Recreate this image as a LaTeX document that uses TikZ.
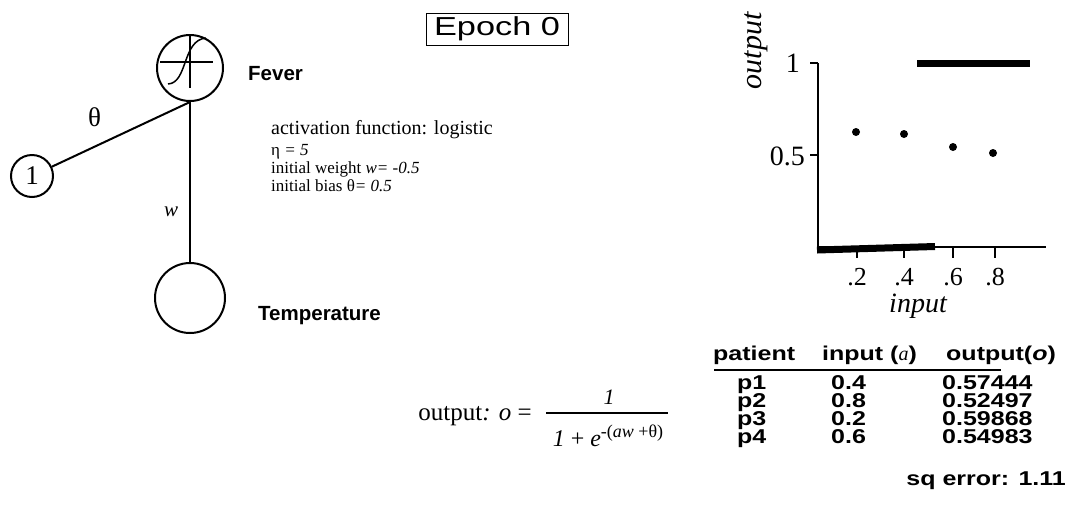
\documentclass[tikz,border=0pt]{standalone}
\usepackage{fontspec}
\setmainfont{Liberation Serif}
\setsansfont{Liberation Sans}
\newfontfamily\tabf[FakeStretch=1.25]{Liberation Sans}
\newfontfamily\epf[FakeStretch=1.32]{Liberation Sans}
\begin{document}
\begin{tikzpicture}[x=1pt,y=-1pt,
  unit/.style={draw,circle,line width=2pt,inner sep=0pt},
  lbl/.style={inner sep=0pt,anchor=base west,font=\sffamily\bfseries\fontsize{20.5}{20.5}\selectfont},
  ser/.style={inner sep=0pt,anchor=base west},
  tab/.style={inner sep=0pt,anchor=base west,font=\tabf\bfseries\fontsize{20}{20}\selectfont},
  conn/.style={line width=2pt},
  axis/.style={line width=2pt},
  thickbar/.style={line width=7pt},
  dot/.style={circle,fill,inner sep=0pt,minimum size=8pt}]
\useasboundingbox (0,0) rectangle (1084,515);
% network
\node[unit,minimum size=66pt] (fever) at (190,68) {};
\node[unit,minimum size=70pt] (temp) at (190,298) {};
\node[unit,minimum size=42pt,font=\fontsize{27}{27}\selectfont] (one) at (32,176) {1};
\draw[line width=2pt] (160,62) -- (213,62);
\draw[line width=2pt] (190,35) -- (190,88);
\draw[line width=1.5pt] (168,84) .. controls (188,83) and (182,40) .. (206,38);
\draw[conn] (one) -- (fever.south);
\draw[conn] (fever.south) -- (temp.north);
\node[ser,font=\fontsize{27}{27}\selectfont] (th) at (88,126) {θ};
\node[ser,font=\itshape\fontsize{21}{21}\selectfont] (wl) at (164,216) {w};
\node[lbl] (fevl) at (248,80) {Fever};
\node[lbl] (templ) at (258,320) {Temperature};
% epoch
\node[draw,line width=1pt,minimum width=142pt,minimum height=32pt,inner sep=0pt,font=\epf\fontsize{26}{26}\selectfont] (epoch) at (497,29) {Epoch 0};
% parameters
\node[ser,font=\fontsize{20}{20}\selectfont] (act) at (271,134) {activation function: logistic};
\node[ser,font=\fontsize{17}{17}\selectfont] (eta) at (271,155) {η \textit{= 5}};
\node[ser,font=\fontsize{17}{17}\selectfont] (iw) at (271,173) {initial weight \textit{w= -0.5}};
\node[ser,font=\fontsize{17}{17}\selectfont] (ib) at (271,191) {initial bias θ\textit{= 0.5}};
% formula
\node[inner sep=0pt,anchor=base east,font=\fontsize{25}{25}\selectfont] (outl) at (532,420) {output\textit{:} \textit{o} =};
\draw[line width=2pt] (546,413) -- (668,413);
\node[inner sep=0pt,anchor=base,font=\itshape\fontsize{22}{22}\selectfont] (num) at (609,404) {1};
\node[inner sep=0pt,anchor=base,font=\fontsize{24}{24}\selectfont] (den) at (608,446) {\textit{1} + \textit{e}\raisebox{9pt}{\fontsize{18}{18}\selectfont -(\textit{aw} +θ)}};
% plot
\coordinate (ytop) at (818,63);
\coordinate (orig) at (818,247);
\coordinate (xend) at (1046,247);
\draw[axis] (ytop) -- (orig) -- (xend);
\draw[axis] (810,63) -- (ytop);
\draw[axis] (810,155) -- (818,155);
\foreach \xx/\t in {857/.2,904/.4,953/.6,995/.8}{
  \draw[axis] (\xx,247) -- (\xx,258);
  \node[inner sep=0pt,anchor=base,font=\fontsize{26}{26}\selectfont] (tick\xx) at (\xx,285) {\t};
}
\draw[thickbar] (817,250) -- (935,246.5);
\draw[thickbar] (917,63) -- (1030,63);
\node[dot] (d1) at (856,132) {};
\node[dot] (d2) at (904,134) {};
\node[dot] (d3) at (953,147) {};
\node[dot] (d4) at (993,153) {};
\node[inner sep=0pt,anchor=base east,font=\fontsize{28}{28}\selectfont] (y1) at (800,72) {1};
\node[inner sep=0pt,anchor=base east,font=\fontsize{28}{28}\selectfont] (y05) at (805,165) {0.5};
\node[inner sep=0pt,rotate=90,font=\itshape\fontsize{30}{30}\selectfont] (ylab) at (756,51) {output};
\node[inner sep=0pt,anchor=base,font=\itshape\fontsize{28}{28}\selectfont] (xlab) at (918,312) {input};
% table
\node[tab] (h1) at (713,360) {patient};
\node[tab] (h2) at (822,360) {input (\textnormal{\itshape a})};
\node[tab] (h3) at (946,360) {output(\textit{o})};
\coordinate (ruleL) at (714,370);
\coordinate (ruleR) at (1001,370);
\draw[line width=2pt] (ruleL) -- (ruleR);
\foreach \r/\p/\a/\o in {389/p1/0.4/0.57444,407/p2/0.8/0.52497,425/p3/0.2/0.59868,443/p4/0.6/0.54983}{
  \node[tab] (c1\p) at (737,\r) {\p};
  \node[tab] (c2\p) at (831,\r) {\a};
  \node[tab] (c3\p) at (942,\r) {\o};
}
\node[tab,anchor=base east] (sq) at (1066,485) {sq error: 1.11};
\end{tikzpicture}
\end{document}
